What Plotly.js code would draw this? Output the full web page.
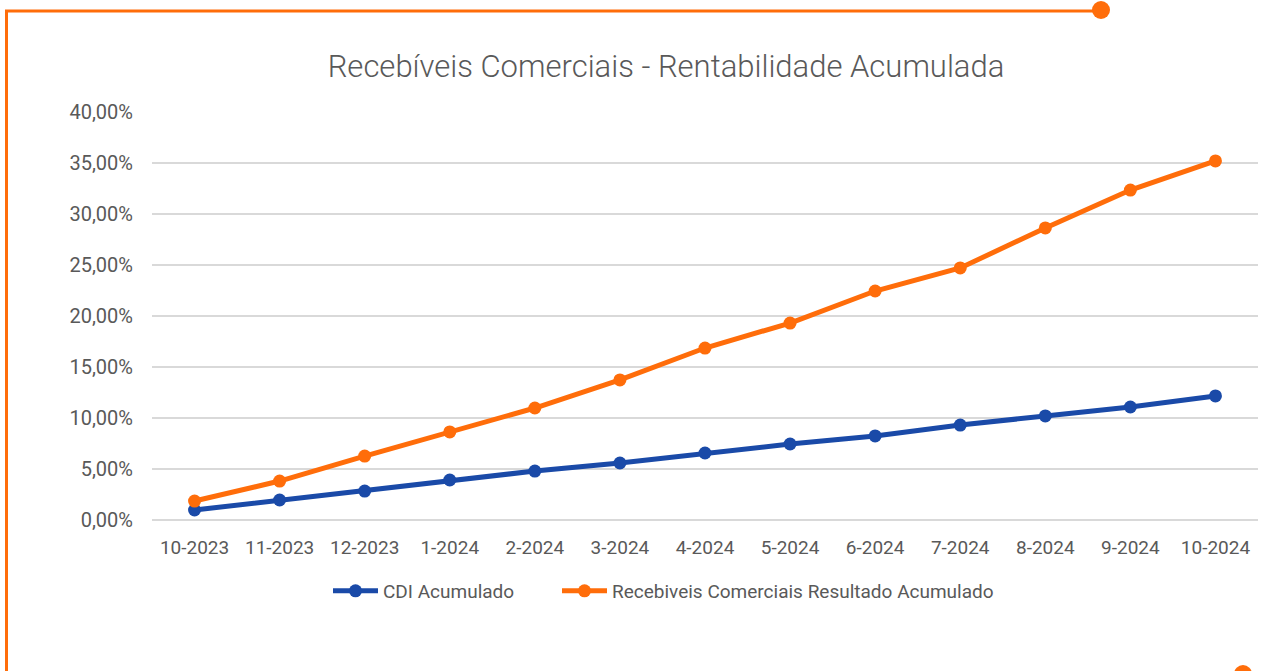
<!DOCTYPE html>
<html>
<head>
<meta charset="utf-8">
<script src="https://cdn.plot.ly/plotly-3.0.1.min.js"></script>
<style>html,body{margin:0;padding:0;background:#fff;}#chart{width:1262px;height:671px;}</style>
</head>
<body>
<div id="chart"></div>
<script>
const months = ["10-2023","11-2023","12-2023","1-2024","2-2024","3-2024","4-2024","5-2024","6-2024","7-2024","8-2024","9-2024","10-2024"];
const cdiAcumulado = [0.98, 1.96, 2.84, 3.92, 4.80, 5.59, 6.57, 7.45, 8.24, 9.31, 10.20, 11.08, 12.16];
const recebiveisAcumulado = [1.86, 3.82, 6.27, 8.63, 10.98, 13.73, 16.86, 19.31, 22.45, 24.71, 28.63, 32.35, 35.20];
const yTicks = [0, 5, 10, 15, 20, 25, 30, 35, 40];
const yTickText = yTicks.map(v => v.toFixed(2).replace('.', ',') + '%');

const W = 1262, H = 671;
const M = {l: 152, r: 4, t: 112, b: 151};
const pw = W - M.l - M.r, ph = H - M.t - M.b;
const px = x => (x - M.l) / pw;
const py = y => (H - M.b - y) / ph;

const orange = '#FF6D0A';
const blue = '#1A4AA8';
const grey = '#595959';
const font = 'Roboto, "Noto Sans", sans-serif';

const traces = [
  {x: months, y: cdiAcumulado, name: 'CDI Acumulado', type: 'scatter', mode: 'lines+markers', legend: 'legend',
   line: {color: blue, width: 5}, marker: {color: blue, size: 13}},
  {x: months, y: recebiveisAcumulado, name: 'Recebiveis Comerciais Resultado Acumulado', type: 'scatter', mode: 'lines+markers', legend: 'legend2',
   line: {color: orange, width: 5}, marker: {color: orange, size: 13}}
];

const legendBase = {orientation: 'h', xanchor: 'left', y: py(591), yanchor: 'middle',
                    font: {size: 19, color: grey}, itemwidth: 45, bgcolor: 'rgba(0,0,0,0)'};

const layout = {
  width: W, height: H,
  margin: M,
  paper_bgcolor: '#fff', plot_bgcolor: '#fff',
  font: {family: font, color: grey, size: 19},
  title: {text: 'Recebíveis Comerciais - Rentabilidade Acumulada', font: {family: font, size: 31, color: grey, weight: 300},
          x: 666 / W, xref: 'container', xanchor: 'center', y: 1 - 66 / H, yref: 'container', yanchor: 'middle'},
  xaxis: {type: 'category', range: [-0.5, 12.5], showgrid: false, zeroline: false, showline: false,
          ticks: '', tickfont: {size: 19, color: grey}, ticklabelstandoff: 14, fixedrange: true},
  yaxis: {range: [0, 40], tickmode: 'array', tickvals: yTicks, ticktext: yTickText,
          showgrid: true, gridcolor: '#d9d9d9', gridwidth: 1.5, zeroline: true, zerolinecolor: '#d9d9d9', zerolinewidth: 1.5,
          showline: false, ticks: '', tickfont: {size: 20, color: grey}, ticklabelstandoff: 18, fixedrange: true},
  showlegend: true,
  legend: Object.assign({}, legendBase, {x: px(328)}),
  legend2: Object.assign({}, legendBase, {x: px(557)}),
  shapes: [
    {type: 'line', xref: 'paper', yref: 'paper', x0: px(5), x1: px(1101), y0: py(11), y1: py(11), line: {color: orange, width: 3}, layer: 'above'},
    {type: 'line', xref: 'paper', yref: 'paper', x0: px(6.5), x1: px(6.5), y0: py(10), y1: py(675), line: {color: orange, width: 3}, layer: 'above'},
    {type: 'circle', xref: 'paper', yref: 'paper', x0: px(1092), x1: px(1110), y0: py(1), y1: py(19), fillcolor: orange, line: {width: 0}, layer: 'above'},
    {type: 'circle', xref: 'paper', yref: 'paper', x0: px(1234), x1: px(1252), y0: py(665), y1: py(683), fillcolor: orange, line: {width: 0}, layer: 'above'}
  ]
};

Plotly.newPlot('chart', traces, layout, {displayModeBar: false, staticPlot: true});
</script>
</body>
</html>
